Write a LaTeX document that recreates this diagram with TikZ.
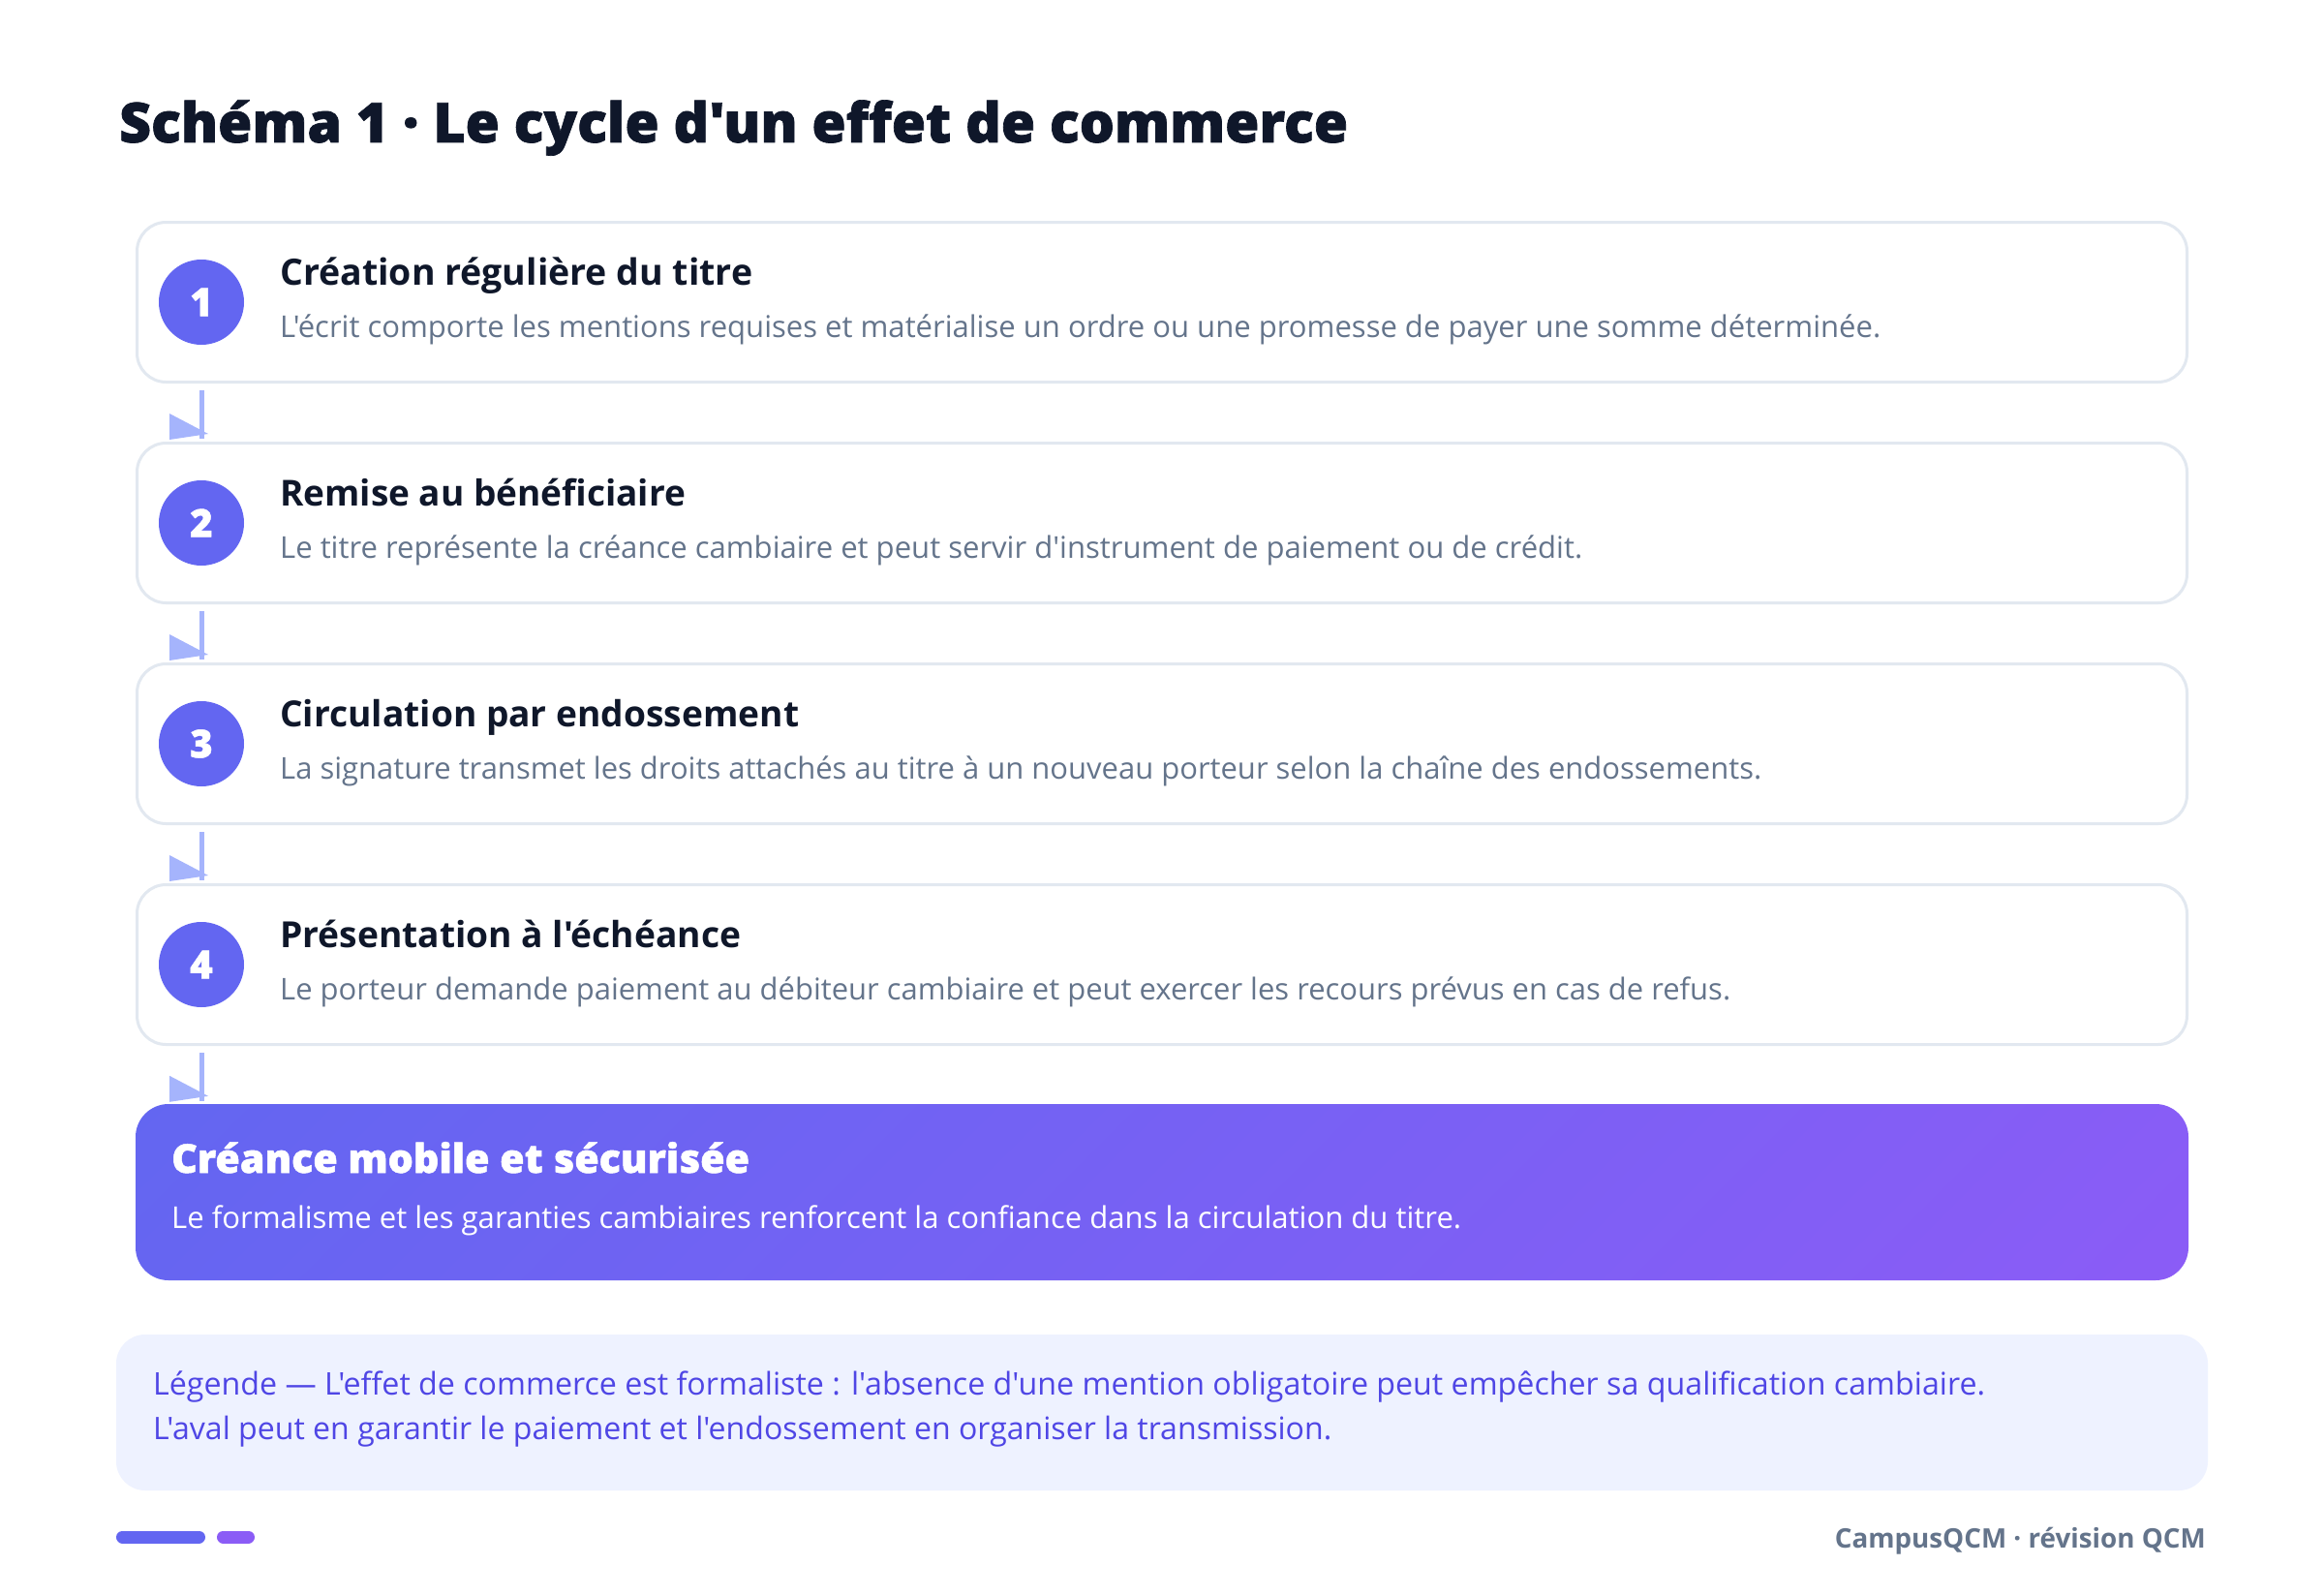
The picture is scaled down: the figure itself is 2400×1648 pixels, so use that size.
\documentclass[tikz,border=0pt]{standalone}
\usepackage{fontspec}
\setmainfont{Open Sans}[Ligatures=TeXOff]
\IfFontExistsTF{Open Sans ExtraBold}
 {\newfontfamily\heavyfont{Open Sans ExtraBold}[Ligatures=TeXOff, FakeBold=1.2]}
 {\IfFontExistsTF{Open Sans Extrabold}
   {\newfontfamily\heavyfont{Open Sans Extrabold}[Ligatures=TeXOff, FakeBold=1.2]}
   {\newfontfamily\heavyfontA{Open Sans}[Ligatures=TeXOff, BoldFeatures={FakeBold=2.5}]\newcommand\heavyfont{\heavyfontA\bfseries}}}
\IfFontExistsTF{Open Sans SemiBold}
 {\newfontfamily\semifont{Open Sans SemiBold}[Ligatures=TeXOff]}
 {\newcommand\semifont{\bfseries}}
\usetikzlibrary{calc}
\definecolor{ink}{HTML}{0F172A}
\definecolor{muted}{HTML}{64748B}
\definecolor{cardborder}{HTML}{E2E8F0}
\definecolor{indigo}{HTML}{6366F1}
\definecolor{violet}{HTML}{8B5CF6}
\definecolor{arrowc}{HTML}{A5B4FC}
\definecolor{legendbg}{HTML}{EEF2FF}
\definecolor{legendtx}{HTML}{4F46E5}
\pgfdeclarehorizontalshading{diagshade}{100bp}{color(0bp)=(indigo); color(14.6bp)=(indigo); color(85.4bp)=(violet); color(100bp)=(violet)}
\newcommand\fitw[2]{\resizebox{#1pt}{!}{#2}}
\begin{document}
\begin{tikzpicture}[x=1pt,y=-1pt,
  card/.style={draw=cardborder, line width=3pt, fill=white, rounded corners=30pt,
    minimum width=2117pt, minimum height=165pt, inner sep=0pt},
  num/.style={circle, fill=indigo, minimum size=88pt, inner sep=0pt, text=white,
    font=\heavyfont\fontsize{40}{44}\selectfont},
  head/.style={anchor=base west, inner sep=0pt, text=ink, font=\bfseries\fontsize{39}{44}\selectfont},
  desc/.style={anchor=base west, inner sep=0pt, text=muted, font=\fontsize{30}{36}\selectfont},
  flow/.style={draw=arrowc, line width=5pt},
  tipfill/.style={fill=arrowc},
  legtext/.style={anchor=base west, inner sep=0pt, text=legendtx, font=\fontsize{32}{38}\selectfont}]
\useasboundingbox (0,0) rectangle (2400,1648);
\fill[white] (0,0) rectangle (2400,1648);

% title
\node[anchor=base west, inner sep=0pt, text=ink, font=\heavyfont\fontsize{58}{64}\selectfont]
  (title) at (123,147) {\fitw{1269}{Schéma 1 · Le cycle d'un effet de commerce}};

% cards
\node[card] (c1) at (1200,312) {};
\node[card] (c2) at (1200,540) {};
\node[card] (c3) at (1200,768) {};
\node[card] (c4) at (1200,996) {};

\node[num] (n1) at (208,312) {1};
\node[num] (n2) at (208,540) {2};
\node[num] (n3) at (208,768) {3};
\node[num] (n4) at (208,996) {4};

\node[head] (h1) at (289,294) {\fitw{488}{Création régulière du titre}};
\node[desc] (d1) at (289,348) {\fitw{1653}{L'écrit comporte les mentions requises et matérialise un ordre ou une promesse de payer une somme déterminée.}};
\node[head] (h2) at (289,522) {\fitw{419}{Remise au bénéficiaire}};
\node[desc] (d2) at (289,576) {\fitw{1345}{Le titre représente la créance cambiaire et peut servir d'instrument de paiement ou de crédit.}};
\node[head] (h3) at (289,750) {\fitw{536}{Circulation par endossement}};
\node[desc] (d3) at (289,804) {\fitw{1530}{La signature transmet les droits attachés au titre à un nouveau porteur selon la chaîne des endossements.}};
\node[head] (h4) at (289,978) {\fitw{476}{Présentation à l'échéance}};
\node[desc] (d4) at (289,1032) {\fitw{1498}{Le porteur demande paiement au débiteur cambiaire et peut exercer les recours prévus en cas de refus.}};

% result box
\node[rounded corners=34pt, shading=diagshade, shading angle=-45, minimum width=2120pt,
  minimum height=182pt, inner sep=0pt] (res) at (1200,1231) {};
\node[anchor=base west, inner sep=0pt, text=white, font=\heavyfont\fontsize{42}{48}\selectfont]
  (rh) at (177,1211) {\fitw{597}{Créance mobile et sécurisée}};
\node[anchor=base west, inner sep=0pt, text=white, font=\fontsize{31}{36}\selectfont]
  (rd) at (177,1268) {\fitw{1332}{Le formalisme et les garanties cambiaires renforcent la confiance dans la circulation du titre.}};

% connectors
\foreach \a/\b in {c1/c2, c2/c3, c3/c4, c4/res}{
  \draw[flow] ($(\a.south -| n1.center)+(0,7)$) -- ($(\b.north -| n1.center)+(0,-3)$);
  \fill[tipfill] ($(\b.north -| n1.center)+(-33,-29)$) -- ($(\b.north -| n1.center)+(-33,-2)$)
     -- ($(\b.north -| n1.center)+(7,-8)$) -- cycle;
}

% legend
\node[fill=legendbg, rounded corners=30pt, minimum width=2160pt, minimum height=161pt, inner sep=0pt]
  (leg) at (1200,1458.5) {};
\node[legtext] (l1) at (158,1440) {\fitw{1892}{Légende — L'effet de commerce est formaliste : l'absence d'une mention obligatoire peut empêcher sa qualification cambiaire.}};
\node[legtext] (l2) at (158,1486) {\fitw{1217}{L'aval peut en garantir le paiement et l'endossement en organiser la transmission.}};

% footer
\coordinate (b1a) at (126.5,1587);
\coordinate (b1b) at (205.5,1587);
\coordinate (b2a) at (230.5,1587);
\coordinate (b2b) at (256.5,1587);
\draw[indigo, line width=13pt, line cap=round] (b1a) -- (b1b);
\draw[violet, line width=13pt, line cap=round] (b2a) -- (b2b);
\node[anchor=base east, inner sep=0pt, text=muted, font=\semifont\fontsize{28}{32}\selectfont]
  (foot) at (2278,1598) {\fitw{383}{CampusQCM · révision QCM}};
\end{tikzpicture}
\end{document}
